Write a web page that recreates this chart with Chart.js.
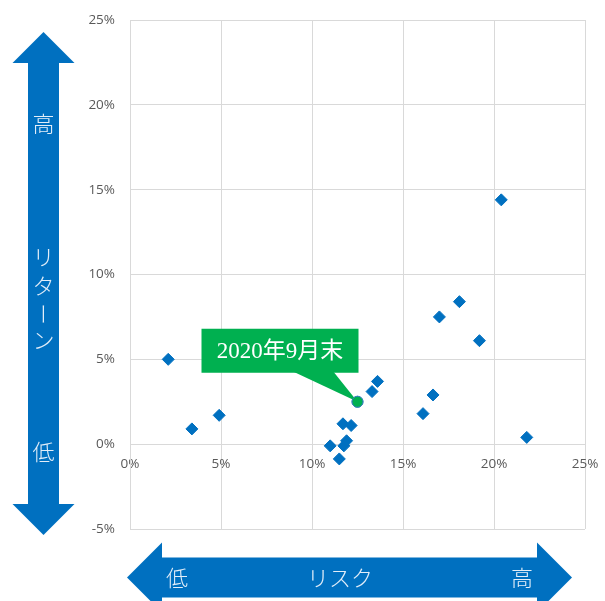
<!DOCTYPE html>
<html>
<head>
<meta charset="utf-8">
<script src="https://cdn.jsdelivr.net/npm/chart.js@4"></script>
<style>
  html, body { margin: 0; padding: 0; background: #fff; }
  #c { display: block; }
</style>
</head>
<body>
<canvas id="c" width="605" height="601"></canvas>
<script>
// ---- data (percent) ----
const riskValues   = [2.1, 3.4, 4.9, 11.0, 11.5, 11.75, 11.9, 11.7, 12.15, 13.3, 13.6, 16.1, 16.65, 17.0, 18.1, 19.2, 20.4, 21.8];
const returnValues = [5.0, 0.9, 1.7, -0.1, -0.87, -0.1, 0.2, 1.2, 1.1, 3.1, 3.7, 1.8, 2.9, 7.5, 8.4, 6.1, 14.4, 0.4];
const highlightRisk   = [12.5];
const highlightReturn = [2.5];
const highlightLabel  = '2020年9月末';
const xTicks = [0, 5, 10, 15, 20, 25];
const yTicks = [-5, 0, 5, 10, 15, 20, 25];
const returnAxisText = { high: '高', title: 'リターン', low: '低' };
const riskAxisText   = { low: '低', title: 'リスク', high: '高' };

const BLUE = '#0070c0';
const GREEN = '#00b050';
const GRID = '#d9d9d9';
const TICK = '#595959';
const ARROW_TEXT = '#e3eef9';

const mainPoints = riskValues.map((x, i) => ({ x, y: returnValues[i] }));
const hiPoints = highlightRisk.map((x, i) => ({ x, y: highlightReturn[i] }));

const decorPlugin = {
  id: 'decor',
  afterDraw(chart) {
    const ctx = chart.ctx;
    const xs = chart.scales.x, ys = chart.scales.y;
    ctx.save();

    // ---- callout pointing at highlight point ----
    const px = xs.getPixelForValue(highlightRisk[0]);
    const py = ys.getPixelForValue(highlightReturn[0]);
    const bx = px - 156, by = py - 73, bw = 157, bh = 44;
    ctx.fillStyle = GREEN;
    ctx.fillRect(bx, by, bw, bh);
    ctx.beginPath();
    ctx.moveTo(bx + 92, by + bh - 1);
    ctx.lineTo(bx + 132, by + bh - 1);
    ctx.lineTo(px, py);
    ctx.closePath();
    ctx.fill();
    ctx.fillStyle = '#ffffff';
    ctx.font = '23px "Liberation Serif", "Noto Sans CJK JP", serif';
    ctx.textAlign = 'center';
    ctx.textBaseline = 'middle';
    ctx.fillText(highlightLabel, bx + bw / 2, by + bh / 2 + 1);

    // redraw highlight point on top of callout
    ctx.beginPath();
    ctx.arc(px, py, 5.5, 0, Math.PI * 2);
    ctx.fillStyle = GREEN;
    ctx.fill();
    ctx.lineWidth = 1;
    ctx.strokeStyle = '#3a7fc0';
    ctx.stroke();

    // ---- vertical double arrow (return) ----
    const vcx = 43.5, vTop = 32, vBot = 535, headH = 31, headHalf = 31, shaftHalf = 15.5;
    ctx.fillStyle = BLUE;
    ctx.beginPath();
    ctx.moveTo(vcx, vTop);
    ctx.lineTo(vcx + headHalf, vTop + headH);
    ctx.lineTo(vcx + shaftHalf, vTop + headH);
    ctx.lineTo(vcx + shaftHalf, vBot - headH);
    ctx.lineTo(vcx + headHalf, vBot - headH);
    ctx.lineTo(vcx, vBot);
    ctx.lineTo(vcx - headHalf, vBot - headH);
    ctx.lineTo(vcx - shaftHalf, vBot - headH);
    ctx.lineTo(vcx - shaftHalf, vTop + headH);
    ctx.lineTo(vcx - headHalf, vTop + headH);
    ctx.closePath();
    ctx.fill();

    ctx.fillStyle = ARROW_TEXT;
    ctx.font = '300 22px "Noto Sans CJK JP", sans-serif';
    ctx.textAlign = 'center';
    ctx.textBaseline = 'middle';
    ctx.fillText(returnAxisText.high, vcx, 124);
    ctx.fillText(returnAxisText.low, vcx, 452);
    const vchars = Array.from(returnAxisText.title);
    const vy = [257, 286, 314, 340];
    vchars.forEach((ch, i) => {
      if (ch === 'ー') {
        ctx.save();
        ctx.translate(vcx, vy[i]);
        ctx.rotate(Math.PI / 2);
        ctx.fillText(ch, 0, 0);
        ctx.restore();
      } else {
        ctx.fillText(ch, vcx, vy[i]);
      }
    });

    // ---- horizontal double arrow (risk) ----
    const hcy = 577.5, hL = 127, hR = 572, hHead = 35, hHeadHalf = 35, hShaftHalf = 20;
    ctx.fillStyle = BLUE;
    ctx.beginPath();
    ctx.moveTo(hL, hcy);
    ctx.lineTo(hL + hHead, hcy - hHeadHalf);
    ctx.lineTo(hL + hHead, hcy - hShaftHalf);
    ctx.lineTo(hR - hHead, hcy - hShaftHalf);
    ctx.lineTo(hR - hHead, hcy - hHeadHalf);
    ctx.lineTo(hR, hcy);
    ctx.lineTo(hR - hHead, hcy + hHeadHalf);
    ctx.lineTo(hR - hHead, hcy + hShaftHalf);
    ctx.lineTo(hL + hHead, hcy + hShaftHalf);
    ctx.lineTo(hL + hHead, hcy + hHeadHalf);
    ctx.closePath();
    ctx.fill();

    ctx.fillStyle = ARROW_TEXT;
    ctx.font = '300 22px "Noto Sans CJK JP", sans-serif';
    ctx.fillText(riskAxisText.low, 177, 578);
    ctx.fillText(riskAxisText.title, 340, 578);
    ctx.fillText(riskAxisText.high, 522, 578);

    ctx.restore();
  }
};

new Chart(document.getElementById('c'), {
  type: 'scatter',
  data: {
    datasets: [
      {
        label: 'funds',
        data: mainPoints,
        pointStyle: 'rectRot',
        pointRadius: 6,
        pointHoverRadius: 6,
        backgroundColor: BLUE,
        borderColor: BLUE,
        borderWidth: 1
      },
      {
        label: highlightLabel,
        data: hiPoints,
        pointStyle: 'circle',
        pointRadius: 5.5,
        backgroundColor: GREEN,
        borderColor: '#3a7fc0',
        borderWidth: 1
      }
    ]
  },
  options: {
    responsive: false,
    animation: false,
    devicePixelRatio: 1,
    layout: { padding: { left: 0, right: 20, top: 20, bottom: 72 } },
    plugins: {
      legend: { display: false },
      tooltip: { enabled: false },
      title: { display: false }
    },
    scales: {
      x: {
        type: 'linear',
        position: { y: 0 },
        min: 0, max: 25,
        afterBuildTicks: (s) => { s.ticks = xTicks.map(v => ({ value: v })); },
        afterFit: (s) => { s.paddingRight = 0; s.paddingLeft = 0; },
        ticks: {
          callback: (v) => v + '%',
          color: TICK,
          font: { family: '"Open Sans", sans-serif', size: 13.5 },
          padding: 12,
          maxRotation: 0
        },
        grid: { color: GRID, lineWidth: 1, drawTicks: false },
        border: { color: GRID }
      },
      y: {
        type: 'linear',
        min: -5, max: 25,
        afterBuildTicks: (s) => { s.ticks = yTicks.map(v => ({ value: v })); },
        afterFit: (s) => { s.width = 130; s.paddingTop = 0; s.paddingBottom = 0; },
        ticks: {
          callback: (v) => v + '%',
          color: TICK,
          font: { family: '"Open Sans", sans-serif', size: 13.5 },
          padding: 15
        },
        grid: { color: GRID, lineWidth: 1, drawTicks: false },
        border: { color: GRID }
      }
    }
  },
  plugins: [decorPlugin]
});
</script>
</body>
</html>
